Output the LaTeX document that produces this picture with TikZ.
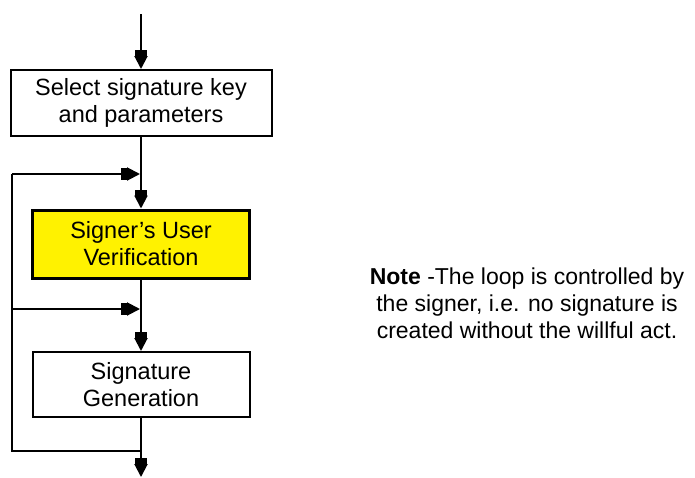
\documentclass[tikz,border=0pt]{standalone}
\usepackage{fontspec}
\setmainfont{Liberation Sans}
\usetikzlibrary{arrows.meta}
\begin{document}
\begin{tikzpicture}[x=1pt,y=-1pt,
  flow/.style={line width=2pt, draw=black},
  arr/.style={flow, -{Rectangle[length=6,width=12]Triangle[length=13,width=13]}},
  stepbox/.style={draw=black, line width=2pt, align=center, inner sep=0pt,
    font=\fontsize{23.5}{27}\selectfont},
  notetext/.style={align=center, font=\fontsize{23}{27}\selectfont}]
\useasboundingbox (0,0) rectangle (695,477);
\node[stepbox, minimum width=261, minimum height=66] (b1) at (141,103) {Select signature key\\and parameters};
\node[stepbox, fill=yellow, line width=3pt, minimum width=217, minimum height=68] (b2) at (141,244) {Signer's User\\Verification};
\node[stepbox, minimum width=217, minimum height=65] (b3) at (141,384.5) {Signature\\Generation};
\coordinate (top) at (141,14);
\coordinate (j1) at (141,174);
\coordinate (j2) at (141,309);
\coordinate (j3) at (141,451);
\coordinate (bot) at (141,477);
\coordinate (l1) at (12,174);
\coordinate (l2) at (12,309);
\coordinate (l3) at (12,451);
\draw[arr] (top) -- (b1.north);
\draw[flow] (b1.south) -- (j1);
\draw[arr] (j1) -- (b2.north);
\draw[flow] (b2.south) -- (j2);
\draw[arr] (j2) -- (b3.north);
\draw[flow] (b3.south) -- (j3) -- (l3) -- (l1);
\draw[arr] (l1) -- ([xshift=-1pt]j1);
\draw[arr] (l2) -- ([xshift=-1pt]j2);
\draw[arr] (j3) -- (bot);
\node[notetext] (note) at (527,303) {\textbf{Note} -The loop is controlled by\\the signer, i.e. no signature is\\created without the willful act.};
\end{tikzpicture}
\end{document}
